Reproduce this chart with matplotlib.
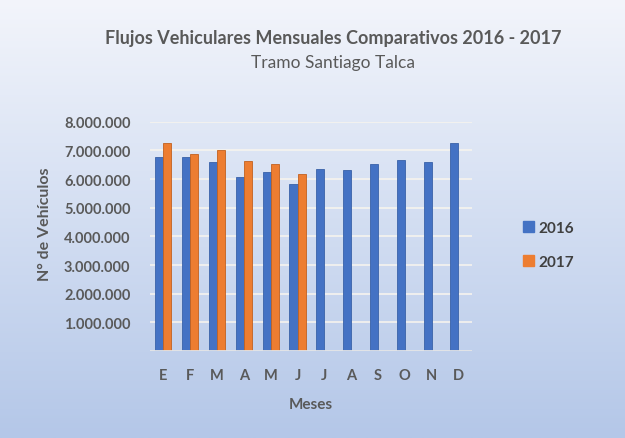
"""
Flujos vehiculares mensuales comparativos 2016 - 2017 (Tramo Santiago Talca)
"""

import numpy as np
import matplotlib
matplotlib.use("Agg")
import matplotlib.pyplot as plt
from matplotlib.ticker import FuncFormatter
from matplotlib.colors import LinearSegmentedColormap
from matplotlib.patches import Patch

# Data (vehicles per month)
meses = ["E", "F", "M", "A", "M", "J", "J", "A", "S", "O", "N", "D"]
flujo_2016 = [6760000, 6780000, 6590000, 6070000, 6240000, 5840000,
              6360000, 6310000, 6510000, 6650000, 6600000, 7250000]
flujo_2017 = [7270000, 6880000, 7020000, 6630000, 6520000, 6190000]
y_ticks = [1000000, 2000000, 3000000, 4000000, 5000000, 6000000, 7000000, 8000000]

TEXT = "#595959"
BLUE = "#4472c4"
ORANGE = "#ed7d31"

plt.rcParams['font.family'] = ['Lato', 'DejaVu Sans']

fig = plt.figure(figsize=(6.25, 4.39), dpi=100)

# gradient background over the whole figure
bg = fig.add_axes([0, 0, 1, 1], zorder=-10)
grad = np.linspace(0, 1, 256).reshape(-1, 1)
cmap = LinearSegmentedColormap.from_list("bg", ["#f3f5fb", "#d3def2", "#b4c7e8"])
bg.imshow(grad, aspect="auto", cmap=cmap, extent=[0, 1, 0, 1], origin="upper")
bg.axis("off")

ax = fig.add_axes([0.24, 0.198, 0.515, 0.5225])
ax.patch.set_alpha(0)

x = np.arange(len(meses))
w = 0.3
ax.bar(x - w / 2, flujo_2016, width=w, color=BLUE, edgecolor="#3a62a8",
       linewidth=0.6, zorder=3, label="2016")
x17 = np.arange(len(flujo_2017))
ax.bar(x17 + w / 2, flujo_2017, width=w, color=ORANGE, edgecolor="#c2611f",
       linewidth=0.6, zorder=3, label="2017")

ax.set_xlim(-0.5, len(meses) - 0.5)
ax.set_ylim(0, 8000000)
ax.set_yticks(y_ticks)
ax.yaxis.set_major_formatter(FuncFormatter(lambda v, p: f"{int(v):,}".replace(",", ".")))
ax.set_xticks(x)
ax.set_xticklabels(meses)

for v in y_ticks:
    ax.axhline(v, color="#f7f4ee", linewidth=1.3, alpha=0.9, zorder=1)
ax.axhline(0, color="#e6e6e6", linewidth=2, zorder=4)

for s in ax.spines.values():
    s.set_visible(False)
ax.tick_params(length=0)
ax.tick_params(axis="y", pad=14, labelsize=10.5, labelcolor=TEXT)
ax.tick_params(axis="x", pad=12, labelsize=10.5, labelcolor=TEXT)
for lab in ax.get_yticklabels() + ax.get_xticklabels():
    lab.set_fontweight("bold")

ax.set_xlabel("Meses", fontsize=11, fontweight="bold", color=TEXT, labelpad=11)
fig.text(0.072, 0.49, "N° de Vehículos", rotation=90, ha="center", va="center",
         fontsize=11.5, fontweight="bold", color=TEXT)

fig.text(0.533, 0.913, "Flujos Vehiculares Mensuales Comparativos 2016 - 2017",
         ha="center", va="center", fontsize=13, fontweight="bold", color=TEXT)
fig.text(0.533, 0.857, "Tramo Santiago Talca", ha="center", va="center",
         fontsize=12.5, color=TEXT)

handles = [Patch(color=BLUE), Patch(color=ORANGE)]
leg = fig.legend(handles, ["2016", "2017"], loc="center left",
                 bbox_to_anchor=(0.815, 0.44), frameon=False,
                 handlelength=0.7, handleheight=0.7, handletextpad=0.3,
                 labelspacing=1.35,
                 prop={"size": 11, "weight": "bold"})
for t in leg.get_texts():
    t.set_color("#404040")

fig.savefig("out.png", dpi=100)
